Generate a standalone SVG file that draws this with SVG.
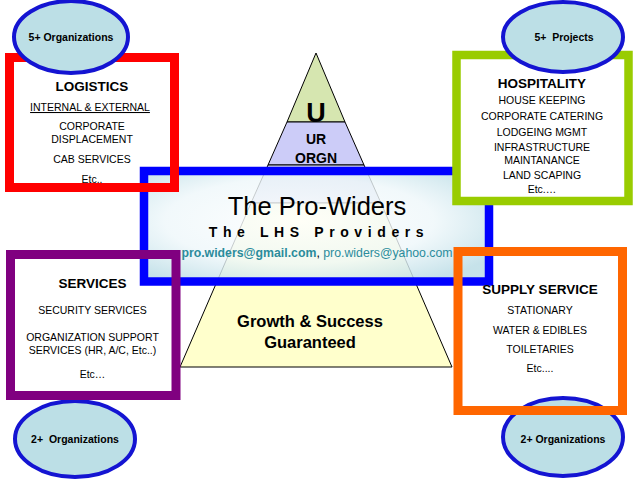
<svg xmlns="http://www.w3.org/2000/svg" width="638" height="479" viewBox="0 0 638 479">
<defs>
<radialGradient id="bg" cx="0.45" cy="0.45" r="0.65">
<stop offset="0" stop-color="#ffffff" stop-opacity="0.85"/>
<stop offset="0.6" stop-color="#eef7fa" stop-opacity="0.8"/>
<stop offset="1" stop-color="#bcdde6" stop-opacity="0.85"/>
</radialGradient>
</defs>
<style>
text{font-family:"Liberation Sans",Arial,sans-serif;fill:#000;text-anchor:middle}
.b{font-weight:bold}
.t{font-size:10.5px}
.h{font-size:13.5px;font-weight:bold}
.ell{fill:#bcdfe6;stroke:#1414d2;stroke-width:4}
.ol{font-size:10.5px;font-weight:bold;white-space:pre}
.lvl{stroke:#000;stroke-width:1}
.frame{fill:none;stroke-width:9}
</style>
<rect width="638" height="479" fill="#fff"/>
<g id="pyramid">
<polygon class="lvl" points="316,53 287,122 345,122" fill="#d6e6b0"/>
<polygon class="lvl" points="287,122 345,122 364,165 268,165" fill="#ccccf8"/>
<polygon class="lvl" points="268,165 364,165 381,203 251,203" fill="#d4d8ee"/>
<polygon class="lvl" points="251,203 381,203 452,367 180,367" fill="#ffffcc"/>
<text class="b" x="316" y="122" font-size="27">U</text>
<text class="b" x="316" y="144" font-size="14">UR</text>
<text class="b" x="316" y="163" font-size="14">ORGN</text>
<text class="b" x="310" y="327" font-size="16.5">Growth &amp; Success</text>
<text class="b" x="310" y="348" font-size="16.5">Guaranteed</text>
</g>
<g id="center">
<rect x="144" y="171" width="345" height="110.5" fill="url(#bg)" stroke="#0000ff" stroke-width="8.5"/>
<text x="317" y="215" font-size="25.5">The Pro-Widers</text>
<text class="b" x="319" y="237" font-size="14" letter-spacing="5.6">The LHS Providers</text>
<text x="317" y="257" font-size="12.3"><tspan fill="#2b8c9c" font-weight="bold">pro.widers@gmail.com</tspan>, <tspan fill="#2b8c9c">pro.widers@yahoo.com</tspan></text>
</g>
<g id="ellipse-bl">
<ellipse class="ell" cx="75" cy="439" rx="60" ry="38"/>
<text class="ol" x="75" y="443">2+  Organizations</text>
</g>
<g id="ellipse-br">
<ellipse class="ell" cx="563" cy="437" rx="60" ry="39"/>
<text class="ol" x="563" y="443">2+ Organizations</text>
</g>
<g id="logistics">
<rect class="frame" x="9.5" y="57.5" width="165" height="130" stroke="#ff0000"/>
<text class="h" x="92" y="91">LOGISTICS</text>
<text class="t" x="90" y="111" text-decoration="underline">INTERNAL &amp; EXTERNAL</text>
<text class="t" x="92" y="130">CORPORATE</text>
<text class="t" x="92" y="143">DISPLACEMENT</text>
<text class="t" x="92" y="163">CAB SERVICES</text>
<text class="t" x="92" y="183">Etc..</text>
</g>
<g id="hospitality">
<rect x="456.5" y="55" width="172" height="146" fill="#fff" stroke="#99cc00" stroke-width="8.5"/>
<text class="h" x="542" y="88">HOSPITALITY</text>
<text class="t" x="542" y="104">HOUSE KEEPING</text>
<text class="t" x="542" y="120">CORPORATE CATERING</text>
<text class="t" x="542" y="136">LODGEING MGMT</text>
<text class="t" x="542" y="151">INFRASTRUCTURE</text>
<text class="t" x="542" y="164">MAINTANANCE</text>
<text class="t" x="542" y="179">LAND SCAPING</text>
<text class="t" x="542" y="193">Etc.…</text>
</g>
<g id="services">
<rect class="frame" x="10.5" y="254.5" width="165.5" height="141" stroke="#800080"/>
<text class="h" x="92.5" y="288">SERVICES</text>
<text class="t" x="92.5" y="314">SECURITY SERVICES</text>
<text class="t" x="92.5" y="341">ORGANIZATION SUPPORT</text>
<text class="t" x="92.5" y="354">SERVICES (HR, A/C, Etc..)</text>
<text class="t" x="92.5" y="378">Etc…</text>
</g>
<g id="supply">
<rect class="frame" x="458" y="251.5" width="164.5" height="159" stroke="#ff6600" stroke-width="9.5"/>
<text class="h" x="540" y="294">SUPPLY SERVICE</text>
<text class="t" x="540" y="314">STATIONARY</text>
<text class="t" x="540" y="334">WATER &amp; EDIBLES</text>
<text class="t" x="540" y="353">TOILETARIES</text>
<text class="t" x="540" y="372">Etc....</text>
</g>
<g id="ellipse-tl">
<ellipse class="ell" cx="71" cy="37" rx="57" ry="36"/>
<text class="ol" x="71" y="41">5+ Organizations</text>
</g>
<g id="ellipse-tr">
<ellipse class="ell" cx="563" cy="37" rx="60" ry="35"/>
<text class="ol" x="564" y="41">5+  Projects</text>
</g>
<g id="connectors"></g>
</svg>
